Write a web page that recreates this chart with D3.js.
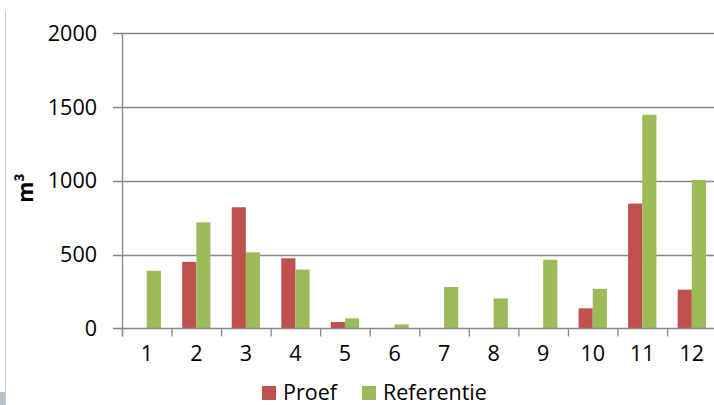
<!DOCTYPE html>
<html>
<head>
<meta charset="utf-8">
<script src="https://cdn.jsdelivr.net/npm/d3@7"></script>
<style>
  html, body { margin: 0; padding: 0; background: #fff; }
  svg { display: block; }
  text { font-family: "Open Sans", "Liberation Sans", sans-serif; fill: #000; }
</style>
</head>
<body>
<svg id="chart" width="714" height="405"></svg>
<script>
// Monthly volumes (m³)
const months = ["1","2","3","4","5","6","7","8","9","10","11","12"];
const proef = [0, 450, 820, 475, 43, 0, 0, 0, 0, 136, 845, 262];
const referentie = [390, 718, 515, 398, 68, 27, 280, 203, 465, 268, 1446, 1005];
const seriesNames = ["Proef", "Referentie"];
const seriesColors = ["#C0504D", "#9BBB59"];
const yTicks = [0, 500, 1000, 1500, 2000];

const svg = d3.select("#chart");
const W = 714, H = 405;

// window edge on the left
svg.append("line").attr("x1", 5.5).attr("x2", 5.5).attr("y1", 11).attr("y2", H)
  .attr("stroke", "#c8c8c8").attr("stroke-width", 1);
svg.append("rect").attr("x", 0).attr("y", 392).attr("width", 5).attr("height", 13)
  .attr("fill", "#b7c4cf");

const plot = { left: 122, right: 716.6, top: 33, bottom: 328.4 };

const x = d3.scaleBand().domain(months).range([plot.left, plot.right]).paddingInner(0).paddingOuter(0);
const y = d3.scaleLinear().domain([0, 2000]).range([plot.bottom, plot.top]);

const barW = x.bandwidth() / 3.5;
const sub = d3.scaleBand().domain(seriesNames)
  .range([ (x.bandwidth() - 2 * barW) / 2, (x.bandwidth() + 2 * barW) / 2 ]);

// horizontal gridlines (extend left as tick marks)
svg.append("g").selectAll("line").data(yTicks.filter(d => d > 0)).join("line")
  .attr("x1", plot.left - 9).attr("x2", plot.right)
  .attr("y1", d => Math.round(y(d)) + 0.5).attr("y2", d => Math.round(y(d)) + 0.5)
  .attr("stroke", "#888888").attr("stroke-width", 1.3);

// bars
const data = months.map((m, i) => ({ m, vals: [proef[i], referentie[i]] }));
const groups = svg.append("g").selectAll("g").data(data).join("g")
  .attr("transform", d => `translate(${x(d.m)},0)`);
groups.selectAll("rect").data(d => d.vals.map((v, k) => ({ v, k })).filter(e => e.v > 0)).join("rect")
  .attr("x", e => sub(seriesNames[e.k]))
  .attr("width", sub.bandwidth())
  .attr("y", e => y(e.v))
  .attr("height", e => y(0) - y(e.v))
  .attr("fill", e => seriesColors[e.k]);

// y axis line
svg.append("line").attr("x1", plot.left + 0.5).attr("x2", plot.left + 0.5)
  .attr("y1", plot.top).attr("y2", plot.bottom + 8)
  .attr("stroke", "#888888").attr("stroke-width", 1.3);

// x axis baseline with outward tick marks
svg.append("line").attr("x1", plot.left - 9).attr("x2", plot.right)
  .attr("y1", Math.round(y(0)) + 0.5).attr("y2", Math.round(y(0)) + 0.5)
  .attr("stroke", "#888888").attr("stroke-width", 1.3);
const xTickPos = months.map(m => x(m)).concat([plot.right]);
svg.append("g").selectAll("line").data(xTickPos).join("line")
  .attr("x1", d => d + 0.5).attr("x2", d => d + 0.5)
  .attr("y1", y(0)).attr("y2", y(0) + 8)
  .attr("stroke", "#888888").attr("stroke-width", 1.3);

// y tick labels
svg.append("g").selectAll("text").data(yTicks).join("text")
  .attr("x", 97).attr("y", d => y(d))
  .attr("dy", "0.36em")
  .attr("text-anchor", "end")
  .style("font-size", "21.5px")
  .text(d => d);

// x tick labels
svg.append("g").selectAll("text").data(months).join("text")
  .attr("x", d => x(d) + x.bandwidth() / 2).attr("y", 361)
  .attr("text-anchor", "middle")
  .style("font-size", "21.5px")
  .text(d => d);

// y axis title
svg.append("text")
  .attr("transform", "translate(33,188) rotate(-90)")
  .attr("text-anchor", "middle")
  .style("font-size", "21.5px").style("font-weight", "bold")
  .text("m³");

// legend
const legend = svg.append("g");
const legendItems = [{ name: seriesNames[0], x: 262 }, { name: seriesNames[1], x: 362 }];
legendItems.forEach((it, i) => {
  legend.append("rect").attr("x", it.x).attr("y", 386).attr("width", 14).attr("height", 14)
    .attr("fill", seriesColors[i]);
  legend.append("text").attr("x", it.x + 21).attr("y", 400)
    .style("font-size", "21.5px").text(it.name);
});
</script>
</body>
</html>
